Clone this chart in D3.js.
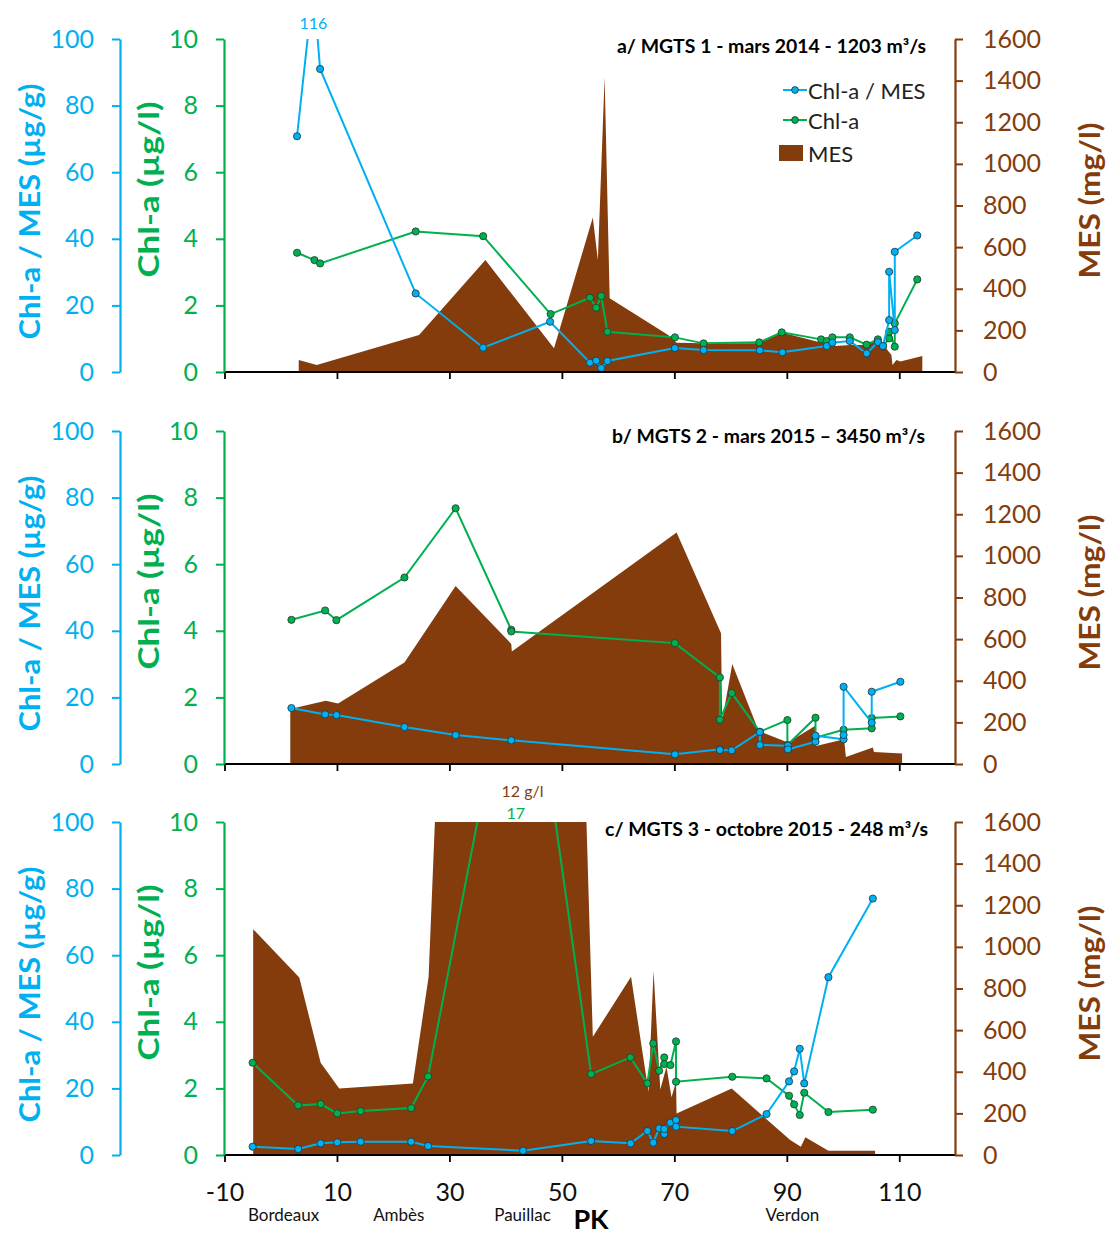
<!DOCTYPE html>
<html><head><meta charset="utf-8">
<script src="https://cdn.jsdelivr.net/npm/d3@7"></script>
<style>
html,body{margin:0;padding:0;background:#fff;}
svg{display:block;font-family:Lato,"Open Sans",sans-serif;}
</style></head>
<body>
<svg id="chart" width="1107" height="1234"></svg>
<script>
// ---------- DATA ----------
const xTicks = [-10, 10, 30, 50, 70, 90, 110];
const ratioTicks = [0, 20, 40, 60, 80, 100];
const chlTicks = [0, 2, 4, 6, 8, 10];
const mesTicks = [0, 200, 400, 600, 800, 1000, 1200, 1400, 1600];
const places = ["Bordeaux", "Ambès", "Pauillac", "Verdon"];
const placePK = [0.5, 21, 43, 91];

const titles = ["a/ MGTS 1 - mars 2014 - 1203 m³/s", "b/ MGTS 2 - mars 2015 – 3450 m³/s", "c/ MGTS 3 - octobre 2015 - 248 m³/s"];
const legendLabels = ["Chl-a / MES", "Chl-a", "MES"];

// Panel a
const aRatioPK  = [2.9, 5.8, 7, 24, 36, 47.9, 55, 56.1, 57, 58.1, 70.1, 75.2, 85.2, 89.2, 97.1, 98.1, 101.2, 104.2, 106.2, 107.1, 108.2, 108.2, 109.2, 109.2, 113.2];
const aRatioVal = [70.8, 116, 91, 23.6, 7.3, 15.1, 2.8, 3.4, 1.2, 3.3, 7.2, 6.6, 6.5, 5.9, 7.8, 8.8, 9.3, 5.6, 9.0, 7.8, 15.6, 30.1, 12.6, 36.1, 41.0];
const aChlPK  = [2.9, 6, 7, 24, 36, 48, 55, 56.1, 57, 58.1, 70.1, 75.2, 85.1, 89.1, 96.1, 97.1, 98.1, 101.2, 104.2, 106.2, 107.1, 108.2, 108.2, 109.2, 109.2, 113.2];
const aChlVal = [3.58, 3.36, 3.26, 4.22, 4.08, 1.74, 2.23, 1.93, 2.28, 1.21, 1.04, 0.86, 0.89, 1.19, 0.98, 0.93, 1.04, 1.04, 0.82, 0.98, 0.77, 1.01, 1.21, 0.76, 1.46, 2.78];
const aMesPK  = [3.2, 6.4, 24.6, 36.4, 48.6, 55.5, 56.4, 57.6, 58.5, 68.9, 70.4, 75, 85, 89.1, 96.2, 98.5, 101.3, 104.2, 105.1, 107.2, 108.6, 108.8, 109.5, 110.2, 114.1];
const aMesVal = [58, 34, 178, 538, 114, 742, 538, 1418, 354, 178, 141, 138, 138, 190, 141, 125, 130, 130, 145, 130, 82, 34, 58, 50, 77];

// Panel b
const bRatioPK  = [1.9, 7.9, 9.9, 22, 31.1, 41, 70.1, 78.1, 78.1, 80.2, 85.2, 85.2, 90.2, 90.2, 95.1, 95.1, 100.1, 100.1, 100.1, 105.1, 105.1, 110.2];
const bRatioVal = [16.8, 14.9, 14.7, 11.1, 8.7, 7.1, 2.9, 4.4, 4.2, 4.1, 9.6, 5.7, 5.5, 4.4, 6.7, 8.5, 7.4, 8.7, 23.2, 12.4, 21.7, 24.7];
const bChlPK  = [1.9, 7.9, 9.9, 22, 31.1, 41, 41, 70.1, 78.1, 78.1, 80.2, 85.2, 90.1, 90.1, 95.1, 95.1, 100.1, 105.1, 105.1, 110.2];
const bChlVal = [4.33, 4.61, 4.32, 5.6, 7.68, 4.03, 3.98, 3.63, 2.6, 1.33, 2.13, 0.97, 1.32, 0.57, 1.39, 0.79, 1.03, 1.07, 1.38, 1.43];
const bMesPK  = [1.7, 8.0, 10.2, 22, 31.1, 41.0, 41.1, 70.4, 78.3, 78.5, 80.3, 85.0, 90.2, 95.0, 95.2, 100.2, 100.5, 105.3, 105.5, 110.5];
const bMesVal = [264, 304, 291, 488, 855, 577, 541, 1112, 628, 207, 480, 159, 103, 182, 87, 119, 34, 79, 58, 50];

// Panel c
const cRatioPK  = [-5, 3.1, 7.1, 10.05, 14.2, 23.2, 26.2, 43.1, 55.2, 62.2, 65.2, 66.25, 67.3, 68.2, 68.2, 69.3, 70.3, 70.3, 80.3, 86.4, 90.4, 91.3, 92.3, 93.1, 97.4, 105.3];
const cRatioVal = [2.5, 1.8, 3.5, 3.8, 4.0, 4.0, 2.7, 1.3, 4.2, 3.5, 7.2, 3.7, 8.0, 6.3, 7.8, 9.7, 10.5, 8.5, 7.2, 12.3, 22.1, 25.1, 31.9, 21.5, 53.4, 77];
const cChlPK  = [-5, 3.1, 7.1, 10.05, 14.2, 23.2, 26.2, 43, 55.2, 62.2, 65.2, 66.25, 67.3, 68.2, 68.2, 69.3, 70.3, 70.3, 80.3, 86.4, 90.4, 91.3, 92.3, 93.1, 97.4, 105.3];
const cChlVal = [2.77, 1.49, 1.53, 1.25, 1.32, 1.41, 2.36, 17, 2.43, 2.93, 2.15, 3.35, 2.53, 2.93, 2.73, 2.7, 3.41, 2.2, 2.35, 2.3, 1.78, 1.52, 1.2, 1.87, 1.29, 1.36];
const cMesPK  = [-4.9, 3.3, 7.1, 10.4, 23.5, 26.3, 43, 55.5, 62.3, 65.4, 66.3, 67.5, 68.6, 69.5, 70.3, 70.4, 80.2, 90.6, 92.5, 93.3, 97.4, 105.7];
const cMesVal = [1085, 853, 443, 320, 344, 856, 12000, 568, 856, 304, 885, 315, 424, 277, 352, 200, 320, 72, 40, 85, 21, 21];

// annotations outside plot (clipped peaks)
const notes = [
  {panel: 0, pk: 5.8, text: "116", kind: "ratio"},
  {panel: 2, pk: 43, text: "12 g/l", kind: "mes"},
  {panel: 2, pk: 41.8, text: "17", kind: "chl"}
];

// ---------- STYLE ----------
const BLUE = "#00B0F0", GREEN = "#00B050", BROWN = "#843C0C";
const X0 = 224.5, X1 = 955.5;
const panelTops = [39, 431, 822];
const PH = 333;
const blueAxisX = 120, greenAxisX = 224, brownAxisX = 955;

const svg = d3.select("#chart");
const x = d3.scaleLinear().domain([-10, 120]).range([X0, X1]);

const panels = [
  {rPK: aRatioPK, rV: aRatioVal, cPK: aChlPK, cV: aChlVal, mPK: aMesPK, mV: aMesVal},
  {rPK: bRatioPK, rV: bRatioVal, cPK: bChlPK, cV: bChlVal, mPK: bMesPK, mV: bMesVal},
  {rPK: cRatioPK, rV: cRatioVal, cPK: cChlPK, cV: cChlVal, mPK: cMesPK, mV: cMesVal}
];

const defs = svg.append("defs");

panels.forEach((p, i) => {
  const top = panelTops[i], bot = top + PH;
  const yR = d3.scaleLinear().domain([0, 100]).range([bot, top]);
  const yC = d3.scaleLinear().domain([0, 10]).range([bot, top]);
  const yM = d3.scaleLinear().domain([0, 1600]).range([bot, top]);
  const g = svg.append("g");

  defs.append("clipPath").attr("id", "clip" + i)
    .append("rect").attr("x", X0 - 1).attr("y", top).attr("width", X1 - X0 + 2).attr("height", PH + 10);

  const plot = g.append("g").attr("clip-path", `url(#clip${i})`);

  // MES area
  const mesData = p.mPK.map((k, j) => [k, p.mV[j]]);
  plot.append("path").datum(mesData)
    .attr("fill", BROWN)
    .attr("d", d3.area().x(d => x(d[0])).y0(bot).y1(d => yM(d[1])));

  // x axis
  const xa = g.append("g").attr("transform", `translate(0,${bot})`)
    .call(d3.axisBottom(x).tickValues(xTicks).tickSize(7).tickSizeOuter(0));
  xa.select(".domain").attr("stroke", "#000").attr("stroke-width", 2.2).attr("d", `M${greenAxisX},0H${X1}`);
  xa.selectAll(".tick line").attr("stroke", "#000").attr("stroke-width", 1.8);
  if (i === 2) {
    xa.selectAll(".tick text").attr("fill", "#111").attr("font-size", 25).attr("dy", "1.45em")
      .attr("font-family", "Lato, sans-serif").text(d => d < 0 ? "-" + Math.abs(d) : String(d));
  } else {
    xa.selectAll(".tick text").remove();
  }

  // Chl-a line
  const chlData = p.cPK.map((k, j) => [k, p.cV[j]]);
  plot.append("path").datum(chlData).attr("fill", "none").attr("stroke", GREEN).attr("stroke-width", 2)
    .attr("d", d3.line().x(d => x(d[0])).y(d => yC(d[1])));
  plot.selectAll(".cdot").data(chlData).enter().append("circle")
    .attr("cx", d => x(d[0])).attr("cy", d => yC(d[1])).attr("r", 3.6)
    .attr("fill", GREEN).attr("stroke", "#1d3a2a").attr("stroke-width", 0.8);

  // Ratio line
  const rData = p.rPK.map((k, j) => [k, p.rV[j]]);
  plot.append("path").datum(rData).attr("fill", "none").attr("stroke", BLUE).attr("stroke-width", 2)
    .attr("d", d3.line().x(d => x(d[0])).y(d => yR(d[1])));
  plot.selectAll(".rdot").data(rData).enter().append("circle")
    .attr("cx", d => x(d[0])).attr("cy", d => yR(d[1])).attr("r", 3.6)
    .attr("fill", BLUE).attr("stroke", "#1d3440").attr("stroke-width", 0.8);

  // Blue axis
  const ba = g.append("g").attr("transform", `translate(${blueAxisX},0)`)
    .call(d3.axisLeft(yR).tickValues(ratioTicks).tickSize(8).tickSizeOuter(0).tickPadding(18).tickFormat(d3.format("d")));
  ba.select(".domain").attr("stroke", BLUE).attr("stroke-width", 2.2);
  ba.selectAll(".tick line").attr("stroke", BLUE).attr("stroke-width", 2);
  ba.selectAll(".tick text").attr("fill", BLUE).attr("font-size", 25).attr("font-family", "Lato, sans-serif");

  // Green axis
  const ga = g.append("g").attr("transform", `translate(${greenAxisX},0)`)
    .call(d3.axisLeft(yC).tickValues(chlTicks).tickSize(8).tickSizeOuter(0).tickPadding(18).tickFormat(d3.format("d")));
  ga.select(".domain").attr("stroke", GREEN).attr("stroke-width", 2.2);
  ga.selectAll(".tick line").attr("stroke", GREEN).attr("stroke-width", 2);
  ga.selectAll(".tick text").attr("fill", GREEN).attr("font-size", 25).attr("font-family", "Lato, sans-serif");

  // Brown axis
  const ma = g.append("g").attr("transform", `translate(${brownAxisX},0)`)
    .call(d3.axisRight(yM).tickValues(mesTicks).tickSize(8).tickSizeOuter(0).tickPadding(20).tickFormat(d3.format("d")));
  ma.select(".domain").attr("stroke", BROWN).attr("stroke-width", 2.2);
  ma.selectAll(".tick line").attr("stroke", BROWN).attr("stroke-width", 2);
  ma.selectAll(".tick text").attr("fill", BROWN).attr("font-size", 25).attr("font-family", "Lato, sans-serif");

  // axis titles
  const mid = (top + bot) / 2;
  g.append("text").attr("transform", `translate(29,${mid + 6}) rotate(-90)`)
    .attr("text-anchor", "middle").attr("dominant-baseline", "central")
    .attr("font-size", 28).attr("font-weight", 700).attr("fill", BLUE)
    .attr("textLength", 256).attr("lengthAdjust", "spacingAndGlyphs").text("Chl-a / MES (µg/g)");
  g.append("text").attr("transform", `translate(148,${mid - 16}) rotate(-90)`)
    .attr("text-anchor", "middle").attr("dominant-baseline", "central")
    .attr("font-size", 28).attr("font-weight", 700).attr("fill", GREEN)
    .attr("textLength", 176).attr("lengthAdjust", "spacingAndGlyphs").text("Chl-a (µg/l)");
  g.append("text").attr("transform", `translate(1089,${mid - 5}) rotate(-90)`)
    .attr("text-anchor", "middle").attr("dominant-baseline", "central")
    .attr("font-size", 28).attr("font-weight", 700).attr("fill", BROWN)
    .attr("textLength", 156).attr("lengthAdjust", "spacingAndGlyphs").text("MES (mg/l)");

  // title
  const titleEnd = [926, 925, 928][i];
  const titleY = [53, 443, 836][i];
  g.append("text").attr("x", titleEnd).attr("y", titleY).attr("text-anchor", "end")
    .attr("font-size", 18).attr("font-weight", 700).attr("fill", "#000")
    .attr("textLength", [309, 313, 323][i]).attr("lengthAdjust", "spacingAndGlyphs")
    .text(titles[i]);

  // notes
  notes.filter(n => n.panel === i).forEach(n => {
    const col = n.kind === "ratio" ? BLUE : n.kind === "chl" ? GREEN : BROWN;
    const yy = n.kind === "ratio" ? top - 10 : n.kind === "chl" ? top - 3 : top - 25;
    g.append("text").attr("x", x(n.pk)).attr("y", yy).attr("text-anchor", "middle")
      .attr("font-size", 16).attr("fill", col).text(n.text);
  });
});

// Legend (panel a)
const lg = svg.append("g");
const legY = [90, 120, 153];
[BLUE, GREEN].forEach((c, j) => {
  lg.append("line").attr("x1", 783).attr("x2", 807).attr("y1", legY[j]).attr("y2", legY[j])
    .attr("stroke", c).attr("stroke-width", 2);
  lg.append("circle").attr("cx", 795).attr("cy", legY[j]).attr("r", 3.4).attr("fill", c)
    .attr("stroke", "#1d3440").attr("stroke-width", 0.8);
});
lg.append("rect").attr("x", 779).attr("y", 145).attr("width", 24).attr("height", 16).attr("fill", BROWN);
legendLabels.forEach((t, j) => {
  lg.append("text").attr("x", 808).attr("y", legY[j]).attr("dominant-baseline", "central")
    .attr("font-size", 22).attr("fill", "#222").text(t);
});

// place names & PK
places.forEach((p, j) => {
  svg.append("text").attr("x", x(placePK[j])).attr("y", 1221).attr("text-anchor", "middle")
    .attr("font-size", 17).attr("fill", "#111").text(p);
});
svg.append("text").attr("x", 591).attr("y", 1229).attr("text-anchor", "middle")
  .attr("font-size", 27).attr("font-weight", 700).attr("fill", "#000").text("PK");
</script>
</body></html>
